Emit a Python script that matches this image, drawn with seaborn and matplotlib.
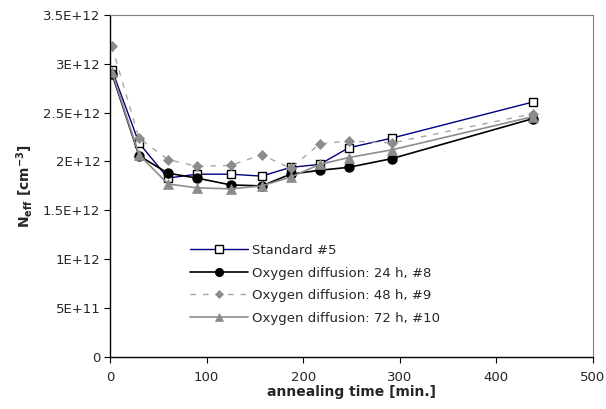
import matplotlib
matplotlib.use("Agg")
import matplotlib.pyplot as plt
import seaborn as sns
import pandas as pd

time_min = [2, 30, 60, 90, 125, 157, 187, 217, 247, 292, 438]
standard_5 = [2.94e12, 2.19e12, 1.83e12, 1.87e12, 1.87e12, 1.85e12, 1.94e12, 1.97e12, 2.14e12, 2.24e12, 2.61e12]
oxy_24h_8 = [2.90e12, 2.06e12, 1.88e12, 1.83e12, 1.76e12, 1.75e12, 1.87e12, 1.91e12, 1.94e12, 2.03e12, 2.44e12]
oxy_48h_9 = [3.18e12, 2.24e12, 2.02e12, 1.95e12, 1.96e12, 2.07e12, 1.93e12, 2.18e12, 2.21e12, 2.19e12, 2.49e12]
oxy_72h_10 = [2.92e12, 2.07e12, 1.77e12, 1.73e12, 1.72e12, 1.75e12, 1.84e12, 1.97e12, 2.04e12, 2.12e12, 2.46e12]
labels = ["Standard #5", "Oxygen diffusion: 24 h, #8",
          "Oxygen diffusion: 48 h, #9", "Oxygen diffusion: 72 h, #10"]
y_ticks = [0, 0.5e12, 1e12, 1.5e12, 2e12, 2.5e12, 3e12, 3.5e12]
y_ticklabels = ["0", "5E+11", "1E+12", "1.5E+12", "2E+12", "2.5E+12", "3E+12", "3.5E+12"]
x_ticks = [0, 100, 200, 300, 400, 500]

sns.set_style("white")
plt.rcParams["font.family"] = ["DejaVu Sans"]

fig = plt.figure(figsize=(6.06, 4.09), dpi=100)
ax = fig.add_axes([0.1815, 0.128, 0.797, 0.835])

series = [standard_5, oxy_24h_8, oxy_48h_9, oxy_72h_10]
styles = [
    dict(color="#000080", lw=1.0, ls="-", marker="s", ms=6, mfc="white", mec="black", mew=1.0),
    dict(color="black", lw=1.2, ls="-", marker="o", ms=6.5, mfc="black", mec="black", mew=1.0),
    dict(color="#a6a6a6", lw=1.0, ls=(0, (4, 5)), marker="D", ms=5, mfc="#8c8c8c", mec="#8c8c8c", mew=0.5),
    dict(color="#8c8c8c", lw=1.2, ls="-", marker="^", ms=6.5, mfc="#8c8c8c", mec="#8c8c8c", mew=0.5),
]
for vals, lab, st in zip(series, labels, styles):
    df = pd.DataFrame({"t": time_min, "n": vals})
    sns.lineplot(data=df, x="t", y="n", ax=ax, label=lab, color=st["color"],
                 linewidth=st["lw"], linestyle=st["ls"], marker=st["marker"],
                 markersize=st["ms"], markerfacecolor=st["mfc"],
                 markeredgecolor=st["mec"], markeredgewidth=st["mew"])

ax.set_xlim(0, 500)
ax.set_ylim(0, 3.5e12)
ax.set_xticks(x_ticks)
ax.set_xticklabels([str(v) for v in x_ticks], fontsize=9.5)
ax.set_yticks(y_ticks)
ax.set_yticklabels(y_ticklabels, fontsize=9.5)
ax.tick_params(axis="x", direction="out", length=4, width=0.8, color="black",
               bottom=True, pad=6)
ax.tick_params(axis="y", direction="out", length=4, width=0.8, color="black",
               left=True, pad=3)

for s in ["left", "bottom"]:
    ax.spines[s].set_color("black")
    ax.spines[s].set_linewidth(1.0)
for s in ["top", "right"]:
    ax.spines[s].set_color("#808080")
    ax.spines[s].set_linewidth(0.8)

ax.set_xlabel("annealing time [min.]", fontsize=10, fontweight="bold", labelpad=1)
ax.set_ylabel(r"N$_{\mathbf{eff}}$ [cm$^{\mathbf{-3}}$]", fontsize=10, fontweight="bold", labelpad=6)

leg = ax.legend(loc="upper left", bbox_to_anchor=(0.155, 0.345), frameon=False,
                fontsize=9.5, handlelength=4.4, handletextpad=0.3, labelspacing=0.72,
                borderaxespad=0, markerscale=0.85)

fig.savefig("out.png", dpi=100)
